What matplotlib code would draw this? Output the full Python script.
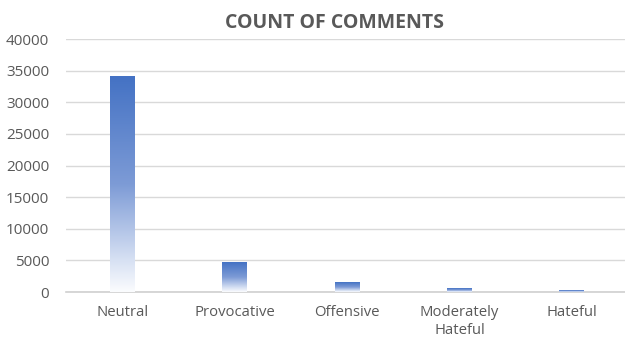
import numpy as np
import matplotlib
matplotlib.use("Agg")
from matplotlib import pyplot as plt
from matplotlib.colors import LinearSegmentedColormap

categories = ["Neutral", "Provocative", "Offensive", "Moderately\nHateful", "Hateful"]
counts = [34100, 4700, 1500, 480, 260]
yticks = [0, 5000, 10000, 15000, 20000, 25000, 30000, 35000, 40000]

plt.rcParams['font.family'] = ['Open Sans', 'DejaVu Sans']
grey = '#595959'

# excel-style gradient fill, light at the bottom, solid blue on top
cmap = LinearSegmentedColormap.from_list(
    "fill", [(0.0, '#fbfcfe'), (0.15, '#d6e0f3'), (0.5, '#7d9bd6'), (1.0, '#4472c4')])

fig = plt.figure(figsize=(6.25, 3.39), dpi=100)
ax = fig.add_axes([0.1056, 0.1386, 0.8992, 0.7463])

width = 0.22
x = np.arange(len(categories))
grad = np.linspace(0, 1, 256).reshape(-1, 1)
for xi, c in zip(x, counts):
    ax.imshow(grad, cmap=cmap, origin='lower', aspect='auto',
              extent=(xi - width / 2, xi + width / 2, 0, c), zorder=3)

ax.set_xlim(-0.5, len(categories) - 0.5)
ax.set_ylim(0, 40000)
ax.set_yticks(yticks)
ax.set_yticklabels([str(t) for t in yticks], color=grey, fontsize=11)
ax.set_xticks(x)
ax.set_xticklabels(categories, color=grey, fontsize=10.7, linespacing=1.35)
ax.tick_params(length=0, pad=9)
ax.tick_params(axis='y', pad=12)

ax.grid(axis='y', color='#d9d9d9', linewidth=1, zorder=0)
for s in ['top', 'right', 'left']:
    ax.spines[s].set_visible(False)
ax.spines['bottom'].set_color('#d0d0d0')
ax.spines['bottom'].set_linewidth(1.2)

ax.set_title("COUNT OF COMMENTS", color=grey, fontsize=14, fontweight='bold',
             x=0.477, pad=8)

fig.savefig("out.png", dpi=100)
